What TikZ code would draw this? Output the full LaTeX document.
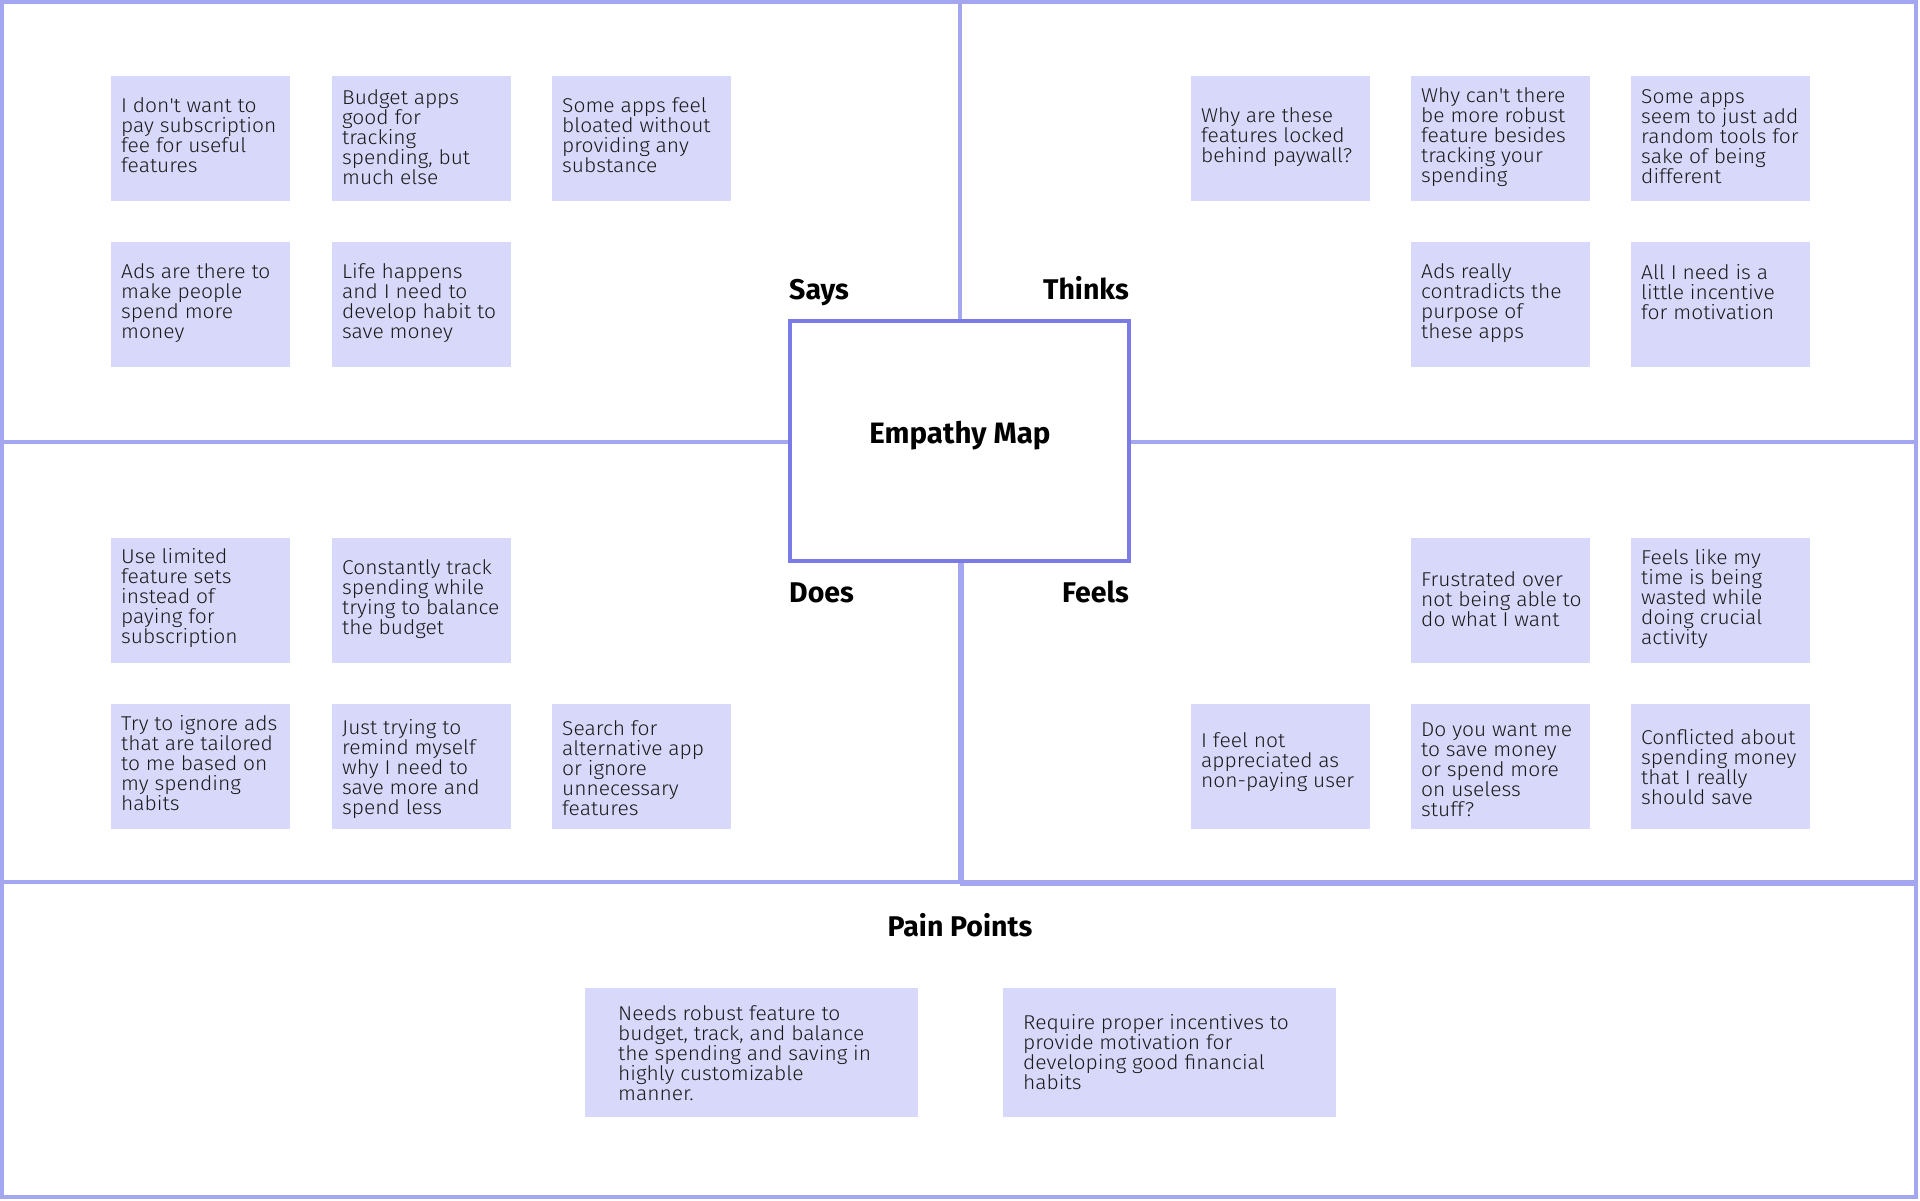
\documentclass[tikz,border=0pt]{standalone}
\usepackage{fontspec}
\setmainfont{Fira Sans}
\newfontfamily\stickyfont[FakeStretch=1.05]{Fira Sans Light}
\definecolor{framecol}{HTML}{A4A6F0}
\definecolor{centercol}{HTML}{7B7BE6}
\definecolor{stickyfill}{HTML}{D8D8FB}
\definecolor{ink}{HTML}{1A1A1A}
\begin{document}
\begin{tikzpicture}[x=1pt,y=-1pt,
  quad/.style={draw=framecol,line width=4.5pt},
  sticky/.style={fill=stickyfill,draw=none,minimum width=179pt,minimum height=125pt,inner sep=0pt,outer sep=0pt,anchor=north west},
  stxt/.style={anchor=west,align=left,inner sep=0pt,yshift=1.5pt,font=\stickyfont\fontsize{20}{20}\selectfont,text=ink},
  head/.style={font=\bfseries\fontsize{28.5}{30}\selectfont,inner sep=0pt,text=black}]
\useasboundingbox (0,0) rectangle (1920,1200);
\fill[white] (0,0) rectangle (1920,1200);
% quadrants
\draw[quad] (2,2) rectangle (960,442);
\draw[quad] (960,2) rectangle (1916,442);
\draw[quad] (2,442) rectangle (960,882);
\draw[quad] (962,442) rectangle (1916,884);
\draw[quad] (2,882) rectangle (1916,1197);
% center box
\node[draw=centercol,line width=3.5pt,fill=white,minimum width=339pt,minimum height=240pt,inner sep=0pt,outer sep=0pt,anchor=north west] (center) at (790,321) {};
\node[head,anchor=base,font=\bfseries\fontsize{29.5}{30}\selectfont] (title) at (960,443) {Empathy Map};
% headings
\node[head,anchor=base west] (says) at (789,299) {Says};
\node[head,anchor=base east] (thinks) at (1129,299) {Thinks};
\node[head,anchor=base west] (does) at (789,602) {Does};
\node[head,anchor=base east] (feels) at (1129,602) {Feels};
\node[head,anchor=base] (pain) at (960,936) {Pain Points};
% Says
\node[sticky] (s1) at (111,76) {};
\node[stxt] (s1t) at ([xshift=10pt,yshift=2pt]s1.west) {I don\textquotesingle t want to\\pay subscription\\fee for useful\\features};
\node[sticky] (s2) at (332,76) {};
\node[stxt] (s2t) at ([xshift=10pt]s2.west) {Budget apps\\good for\\tracking\\spending, but\\much else};
\node[sticky] (s3) at (552,76) {};
\node[stxt] (s3t) at ([xshift=10pt,yshift=2pt]s3.west) {Some apps feel\\bloated without\\providing any\\substance};
\node[sticky] (s4) at (111,242) {};
\node[stxt] (s4t) at ([xshift=10pt]s4.west) {Ads are there to\\make people\\spend more\\money};
\node[sticky] (s5) at (332,242) {};
\node[stxt] (s5t) at ([xshift=10pt]s5.west) {Life happens\\and I need to\\develop habit to\\save money};
% Thinks
\node[sticky] (t1) at (1191,76) {};
\node[stxt] (t1t) at ([xshift=10pt]t1.west) {Why are these\\features locked\\behind paywall?};
\node[sticky] (t2) at (1411,76) {};
\node[stxt] (t2t) at ([xshift=10pt]t2.west) {Why can\textquotesingle t there\\be more robust\\feature besides\\tracking your\\spending};
\node[sticky] (t3) at (1631,76) {};
\node[stxt] (t3t) at ([xshift=10pt]t3.west) {Some apps\\seem to just add\\random tools for\\sake of being\\different};
\node[sticky] (t4) at (1411,242) {};
\node[stxt] (t4t) at ([xshift=10pt]t4.west) {Ads really\\contradicts the\\purpose of\\these apps};
\node[sticky] (t5) at (1631,242) {};
\node[stxt] (t5t) at ([xshift=10pt,yshift=11pt]t5.west) {All I need is a\\little incentive\\for motivation};
% Does
\node[sticky] (d1) at (111,538) {};
\node[stxt] (d1t) at ([xshift=10pt,yshift=1pt]d1.west) {Use limited\\feature sets\\instead of\\paying for\\subscription};
\node[sticky] (d2) at (332,538) {};
\node[stxt] (d2t) at ([xshift=10pt]d2.west) {Constantly track\\spending while\\trying to balance\\the budget};
\node[sticky] (d4) at (111,704) {};
\node[stxt] (d4t) at ([xshift=10pt,yshift=2pt]d4.west) {Try to ignore ads\\that are tailored\\to me based on\\my spending\\habits};
\node[sticky] (d5) at (332,704) {};
\node[stxt] (d5t) at ([xshift=10pt,yshift=-4pt]d5.west) {Just trying to\\remind myself\\why I need to\\save more and\\spend less};
\node[sticky] (d6) at (552,704) {};
\node[stxt] (d6t) at ([xshift=10pt,yshift=-3pt]d6.west) {Search for\\alternative app\\or ignore\\unnecessary\\features};
% Feels
\node[sticky] (f1) at (1411,538) {};
\node[stxt] (f1t) at ([xshift=10pt]f1.west) {Frustrated over\\not being able to\\do what I want};
\node[sticky] (f2) at (1631,538) {};
\node[stxt] (f2t) at ([xshift=10pt]f2.west) {Feels like my\\time is being\\wasted while\\doing crucial\\activity};
\node[sticky] (f3) at (1191,704) {};
\node[stxt] (f3t) at ([xshift=10pt,yshift=3pt]f3.west) {I feel not\\appreciated as\\non-paying user};
\node[sticky] (f4) at (1411,704) {};
\node[stxt] (f4t) at ([xshift=10pt,yshift=-5pt]f4.west) {Do you want me\\to save money\\or spend more\\on useless\\stuff?};
\node[sticky] (f5) at (1631,704) {};
\node[stxt] (f5t) at ([xshift=10pt,yshift=-2pt]f5.west) {Conflicted about\\spending money\\that I really\\should save};
% Pain points
\node[sticky,minimum width=333pt,minimum height=129pt] (p1) at (585,988) {};
\node[stxt] (p1t) at ([xshift=33pt,yshift=-2pt]p1.west) {Needs robust feature to\\budget, track, and balance\\the spending and saving in\\highly customizable\\manner.};
\node[sticky,minimum width=333pt,minimum height=129pt] (p2) at (1003,988) {};
\node[stxt] (p2t) at ([xshift=20pt,yshift=-1pt]p2.west) {Require proper incentives to\\provide motivation for\\developing good financial\\habits};
\end{tikzpicture}
\end{document}
